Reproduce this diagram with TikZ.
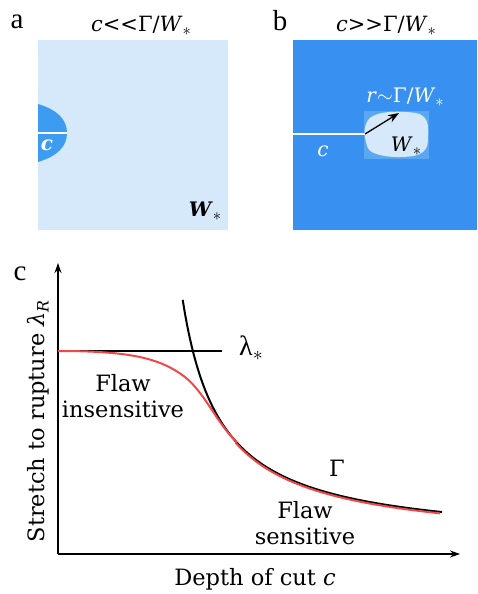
\documentclass[tikz,border=0pt]{standalone}
\usepackage{fontspec}
\setmainfont{DejaVu Serif}
\newfontfamily\timesf{Liberation Serif}
\usetikzlibrary{arrows.meta}
\definecolor{lightb}{HTML}{D6E9FB}
\definecolor{midb}{HTML}{3D9BF0}
\definecolor{darkb}{HTML}{3891F0}
\definecolor{hib}{HTML}{5BA8F2}
\definecolor{redc}{HTML}{F04848}
\newcommand{\ital}[1]{\textit{#1}}
\newcommand{\subst}{\raisebox{-0.35ex}{\scalebox{0.8}{$\ast$}}}
\tikzset{
  lbl/.style={font=\timesf\fontsize{29}{31}\selectfont, inner sep=0pt, anchor=base},
  ttl/.style={font=\fontsize{21}{23}\selectfont, inner sep=0pt, anchor=base},
  sym/.style={font=\fontsize{20}{22}\selectfont, inner sep=0pt},
  txt/.style={font=\fontsize{22.5}{26}\selectfont, inner sep=0pt, align=center},
  axis/.style={line width=1.1pt, -{Stealth[length=10pt,width=7pt]}},
  curve/.style={line width=2pt},
}
\begin{document}
\begin{tikzpicture}[x=1pt,y=-1pt]
\useasboundingbox (0,0) rectangle (477,594);
% panel a
\node[lbl] (la) at (17,29) {a};
\node[ttl] (ta) at (141,32) {\ital{c}<{}<Γ/\ital{W}\subst};
\fill[lightb] (38,40) rectangle (228,230);
\fill[midb] (38,104) .. controls (58,110) and (67,120) .. (67,133) .. controls (67,146) and (58,156) .. (38,162) -- cycle;
\draw[white, line width=1.2pt] (38,133) -- (67,133);
\node[sym, text=white] (ca) at (47,145) {\textbf{\ital{c}}};
\node[sym] (wa) at (205,211) {\textbf{\ital{W}}\subst};
% panel b
\node[lbl] (lb) at (280,31) {b};
\node[ttl] (tb) at (386,32) {\ital{c}>{}>Γ/\ital{W}\subst};
\fill[darkb] (293,40) rectangle (477,230);
\fill[hib] (364,111) rectangle (429,159);
\fill[lightb] plot[smooth cycle, tension=0.7] coordinates {(366,124) (378,114) (405,112) (424,117) (428,135) (423,152) (400,157) (374,153) (366,142)};
\draw[white, line width=1.2pt] (293,134) -- (365,134);
\coordinate (tip) at (365,134);
\coordinate (head) at (399,113);
\draw[line width=1.3pt, -{Stealth[length=11pt,width=8pt]}] (tip) -- (head);
\node[sym] (wb) at (406,146) {\ital{W}\subst};
\node[sym, text=white] (cb) at (323,151) {\ital{c}};
\node[sym, text=white] (rb) at (405,97) {\ital{r}$\sim$Γ/\ital{W}\subst};
% panel c
\node[lbl] (lc) at (20,280) {c};
\coordinate (O) at (58,554);
\coordinate (xend) at (460,554);
\coordinate (yend) at (58,263);
\draw[axis] (O) -- (xend);
\draw[axis] (O) -- (yend);
\node[txt, rotate=90] (ylab) at (38,421) {Stretch to rupture \ital{λ}\textsubscript{\ital{R}}};
\node[txt] (xlab) at (255,579) {Depth of cut \ital{c}};
\coordinate (ls) at (58,351);
\coordinate (le) at (222,351);
\draw[curve] (ls) -- (le);
\node[txt, font=\timesf\fontsize{28}{30}\selectfont] (lam) at (251,348) {λ\subst};
\draw[curve] plot[domain=182.7:442, samples=120, smooth] (\x, {543.3 - 9300/(\x-144.5)});
\draw[redc, line width=2pt] (58,351) .. controls (130,351) and (160,358) .. (185,377) .. controls (205,393) and (218,425) .. (236,441)
  -- plot[domain=236:440, samples=100, smooth] (\x, {544.8 - 9300/(\x-144.5)});
\node[txt] (fi) at (123,396) {Flaw\\insensitive};
\node[txt] (gam) at (337,468) {Γ};
\node[txt] (fs) at (305,523) {Flaw\\sensitive};
\end{tikzpicture}
\end{document}
